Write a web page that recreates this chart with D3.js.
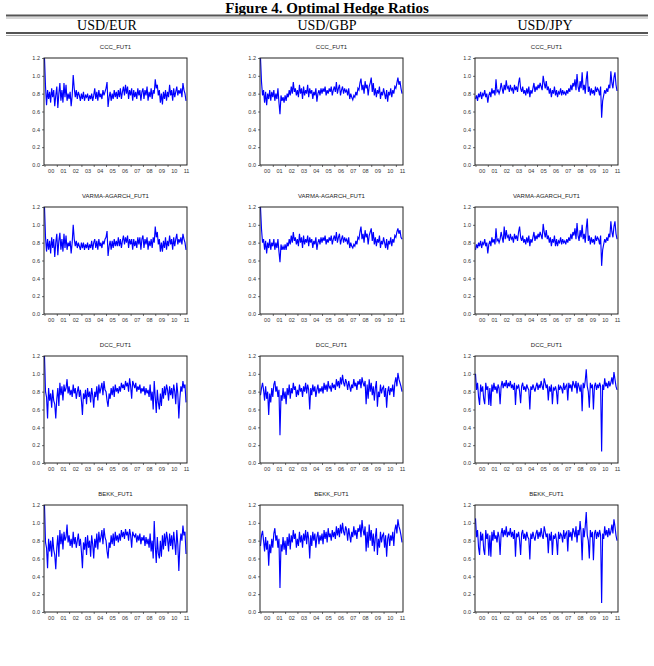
<!DOCTYPE html>
<html>
<head>
<meta charset="utf-8">
<title>Figure 4. Optimal Hedge Ratios</title>
<script src="https://d3js.org/d3.v7.min.js"></script>
<style>
  body { margin: 0; background: #fff; }
  svg text { font-family: "Liberation Sans", Arial, sans-serif; }
</style>
</head>
<body>
<svg id="chart" width="654" height="666"></svg>
<script>
// monthly readings, Jan 2000 .. Jul 2011
var startYear = 2000;
var perYear = 12;
var yearLabels = ["00", "01", "02", "03", "04", "05", "06", "07", "08", "09", "10", "11"];
var yTicks = [0, 0.2, 0.4, 0.6, 0.8, 1.0, 1.2];
var currencies = ["USD/EUR", "USD/GBP", "USD/JPY"];
var models = ["CCC_FUT1", "VARMA-AGARCH_FUT1", "DCC_FUT1", "BEKK_FUT1"];

var eurCCC = [
  1.20,.88,.67,.84,.74,.82,.70,.86,.76,.84,.66,.78,
  .88,.64,.80,.92,.72,.84,.70,.92,.76,.90,.72,.80,
  .74,.82,.66,.78,1.01,.86,.76,.84,.74,.82,.78,.72,
  .80,.74,.82,.72,.78,.76,.80,.72,.78,.74,.80,.72,
  .78,.86,.74,.82,.72,.84,.76,.80,.74,.84,.78,.82,
  .86,.93,.65,.76,.82,.72,.80,.74,.84,.76,.82,.74,
  .84,.76,.86,.74,.82,.88,.78,.90,.80,.88,.74,.84,
  .78,.86,.72,.84,.76,.82,.74,.86,.78,.84,.72,.82,
  .86,.74,.84,.78,.88,.72,.82,.76,.86,.74,.84,.80,
  .96,.86,.90,.78,.84,.70,.80,.68,.82,.74,.84,.72,
  .82,.76,.90,.78,.84,.72,.86,.76,.82,.88,.78,.84,
  .80,.86,.76,.92,.84,.80,.72];
var gbpCCC = [
  1.20,.93,.78,.84,.70,.82,.67,.80,.74,.84,.72,.82,
  .76,.84,.72,.80,.74,.86,.70,.57,.78,.72,.76,.70,
  .78,.72,.80,.76,.84,.78,.88,.80,.93,.82,.86,.78,
  .84,.76,.90,.80,.86,.74,.88,.78,.84,.80,.90,.76,
  .86,.80,.84,.74,.82,.78,.86,.71,.80,.84,.78,.86,
  .80,.86,.82,.88,.78,.84,.80,.86,.82,.88,.78,.84,
  .88,.82,.93,.80,.86,.90,.78,.84,.88,.80,.86,.82,
  .84,.78,.86,.74,.80,.76,.73,.78,.76,.82,.78,.86,
  .84,.92,.97,.84,.90,.80,.94,.86,.90,.78,.88,.92,
  .98,.82,.92,.78,.86,.76,.84,.80,.88,.74,.82,.78,
  .86,.80,.74,.84,.71,.82,.78,.86,.76,.84,.80,.88,
  .86,.92,.98,.90,.94,.86,.80];
var jpyCCC = [
  .74,.78,.72,.80,.76,.82,.74,.80,.78,.84,.76,.80,
  .70,.78,.82,.76,.86,.80,.84,.78,.96,.82,.84,.80,
  .84,.92,.86,.80,.90,.84,.95,.86,.88,.82,.90,.84,
  .86,.80,.90,.84,.88,.82,.92,.98,.86,.82,.88,.80,
  .84,.78,.86,.80,.88,.76,.84,.80,.86,.92,.82,.88,
  .84,.90,.86,.92,.88,.84,1.00,.92,.86,.94,.84,.88,
  .80,.86,.76,.84,.80,.88,.78,.84,.76,.82,.80,.86,
  .78,.84,.80,.82,.78,.84,.80,.86,.82,.90,.84,.92,
  .88,.96,.84,1.02,.88,.82,.94,.86,1.04,.84,.90,.80,
  .96,1.05,.82,.88,.78,.86,.80,.84,.78,.88,.82,.86,
  .84,.78,.88,.53,.72,.78,.84,.80,.86,.82,.90,.86,
  1.05,.92,.86,.98,1.04,.90,.83];

var eurVARMA = [
  1.20,.86,.70,.84,.72,.82,.68,.86,.74,.84,.64,.80,
  .90,.66,.82,.91,.72,.84,.70,.90,.74,.88,.72,.80,
  .76,.82,.68,.80,1.00,.84,.76,.82,.74,.80,.76,.72,
  .80,.74,.80,.72,.78,.74,.80,.72,.78,.74,.82,.72,
  .80,.84,.74,.82,.72,.84,.76,.80,.74,.82,.78,.84,
  .86,.93,.65,.76,.82,.72,.82,.74,.84,.76,.82,.76,
  .86,.76,.84,.74,.82,.88,.78,.86,.80,.88,.74,.84,
  .78,.84,.72,.84,.76,.82,.74,.86,.78,.86,.72,.84,
  .88,.74,.84,.78,.86,.72,.82,.76,.84,.74,.86,.80,
  .98,.86,.92,.78,.84,.70,.80,.70,.82,.74,.86,.72,
  .82,.76,.88,.78,.84,.72,.86,.76,.84,.90,.78,.84,
  .80,.86,.78,.90,.84,.80,.72];
var gbpVARMA = [
  1.20,.95,.80,.84,.72,.82,.68,.80,.74,.84,.72,.80,
  .76,.84,.72,.80,.74,.84,.70,.58,.78,.72,.76,.72,
  .78,.72,.80,.76,.84,.78,.88,.80,.92,.82,.86,.78,
  .84,.76,.90,.80,.86,.74,.88,.78,.84,.80,.88,.76,
  .86,.80,.84,.74,.82,.78,.86,.72,.80,.84,.78,.86,
  .80,.86,.82,.88,.78,.84,.80,.86,.82,.88,.78,.84,
  .88,.82,.92,.80,.86,.90,.78,.84,.88,.80,.86,.82,
  .84,.78,.86,.74,.80,.76,.74,.78,.76,.82,.78,.86,
  .84,.92,.98,.84,.90,.80,.94,.86,.90,.78,.88,.92,
  .96,.82,.92,.78,.86,.76,.84,.80,.88,.74,.82,.78,
  .86,.80,.74,.84,.72,.82,.78,.86,.76,.84,.80,.88,
  .86,.92,.96,.90,.94,.86,.84];
var jpyVARMA = [
  .72,.78,.74,.80,.76,.82,.74,.80,.78,.84,.76,.80,
  .68,.78,.82,.76,.86,.80,.84,.78,.96,.82,.84,.80,
  .84,.92,.86,.80,.98,.84,.94,.86,.88,.82,.90,.84,
  .86,.80,.90,.84,.88,.82,.92,.98,.86,.82,.88,.80,
  .84,.78,.86,.80,.88,.76,.84,.80,.86,.92,.82,.88,
  .84,.90,.86,.92,.88,.84,1.01,.92,.86,.94,.84,.88,
  .80,.86,.76,.84,.80,.88,.76,.84,.76,.82,.80,.86,
  .78,.84,.80,.82,.78,.84,.80,.86,.82,.90,.84,.92,
  .88,.96,.84,1.02,.88,.82,.94,.86,1.00,.84,.90,.80,
  .96,1.07,.82,.88,.78,.86,.80,.84,.78,.88,.82,.86,
  .84,.78,.88,.54,.72,.78,.84,.80,.86,.82,.90,.86,
  1.04,.92,.86,.98,1.04,.90,.84];

var eurDCC = [
  1.20,.80,.74,.50,.84,.70,.78,.62,.82,.70,.66,.50,
  .72,.84,.64,.90,.76,.86,.70,.88,.80,.84,.94,.78,
  .86,.76,.82,.74,.88,.78,.84,.72,.80,.86,.74,.82,
  .70,.54,.78,.72,.82,.66,.84,.74,.80,.68,.84,.76,
  .62,.80,.74,.86,.70,.88,.78,.84,.90,.76,.92,.82,
  .80,.70,.63,.78,.72,.84,.76,.86,.74,.88,.80,.84,
  .78,.86,.80,.90,.84,.88,.82,.92,.86,.90,.80,.95,
  .86,.72,.92,.88,.84,.90,.80,.86,.82,.88,.78,.84,
  .80,.86,.76,.84,.78,.82,.74,.88,.70,.80,.60,.92,
  .74,.56,.82,.68,.60,.78,.64,.84,.72,.86,.76,.88,
  .82,.70,.86,.76,.84,.72,.88,.80,.66,.90,.78,.50,
  .72,.86,.80,.92,.84,.88,.68];
var gbpDCC = [
  .76,.84,.90,.82,.70,.86,.72,.80,.54,.78,.68,.84,
  .74,.88,.92,.80,.86,.74,.82,.31,.76,.70,.84,.72,
  .80,.66,.84,.76,.88,.72,.84,.78,.90,.82,.86,.74,
  .82,.76,.88,.80,.84,.74,.86,.80,.90,.78,.88,.82,
  .60,.84,.76,.88,.80,.86,.74,.82,.88,.78,.84,.80,
  .86,.78,.90,.82,.88,.80,.92,.84,.86,.80,.90,.84,
  .88,.82,.94,.86,.92,.84,.96,.88,.99,.90,.86,.94,
  .90,.82,.92,.86,.80,.88,.84,.94,.86,.90,.82,.92,
  .88,.94,.84,.96,.90,.86,.92,.66,.88,.72,.94,.80,
  .90,.76,.86,.70,.84,.92,.63,.80,.74,.88,.78,.84,
  .86,.74,.84,.62,.80,.86,.76,.84,.80,.88,.74,.90,
  .96,.86,1.01,.94,.90,.86,.80];
var jpyDCC = [
  1.00,.82,.90,.74,.65,.88,.80,.86,.72,.66,.90,.82,
  .86,.65,.84,.64,.88,.80,.90,.82,.86,.78,.88,.84,
  .66,.86,.92,.84,.90,.86,.93,.84,.90,.86,.92,.84,
  .88,.82,.90,.65,.86,.84,.88,.80,.67,.86,.90,.82,
  .86,.80,.88,.84,.82,.60,.86,.82,.88,.84,.80,.86,
  .90,.82,.88,.84,.92,.86,.82,.95,.90,.84,.88,.70,
  .86,.80,.88,.66,.84,.82,.86,.80,.66,.88,.82,.86,
  .84,.78,.90,.82,.86,.88,.70,.90,.84,.88,.80,.92,
  .88,.84,.92,.78,.90,.86,.80,.88,.58,.90,.84,.92,
  1.05,.86,.80,.62,.90,.84,.88,.60,.86,.90,.82,.88,
  .84,.90,.86,.13,.88,.82,.95,.86,.90,.84,.92,.86,
  .90,.96,.88,1.02,.94,.86,.82];

var eurBEKK = [
  1.20,.78,.72,.49,.82,.68,.80,.62,.84,.70,.64,.48,
  .72,.86,.62,.92,.76,.88,.70,.90,.80,.84,.98,.78,
  .86,.74,.82,.72,.90,.76,.84,.72,.80,.88,.74,.82,
  .68,.49,.78,.70,.84,.64,.86,.72,.80,.62,.86,.76,
  .60,.82,.72,.88,.70,.90,.78,.84,.92,.76,.94,.84,
  .80,.68,.60,.78,.72,.86,.76,.88,.74,.90,.80,.86,
  .78,.88,.80,.92,.84,.90,.82,.93,.86,.90,.80,.93,
  .86,.72,.90,.86,.84,.88,.78,.86,.80,.88,.76,.84,
  .80,.86,.74,.84,.76,.82,.72,.88,.68,.80,.60,1.02,
  .74,.55,.84,.66,.60,.80,.62,.86,.70,.88,.74,.90,
  .82,.68,.88,.74,.86,.70,.90,.78,.64,.92,.76,.46,
  .74,.88,.80,.97,.86,.90,.65];
var gbpBEKK = [
  .74,.86,.91,.80,.68,.84,.70,.80,.52,.76,.66,.82,
  .72,.88,.94,.80,.86,.72,.82,.27,.76,.68,.84,.70,
  .80,.64,.84,.74,.88,.70,.86,.78,.92,.82,.88,.72,
  .82,.74,.90,.78,.86,.72,.88,.80,.92,.76,.90,.82,
  .60,.86,.74,.90,.80,.88,.72,.84,.90,.76,.86,.80,
  .88,.76,.92,.82,.90,.78,.94,.84,.88,.80,.92,.84,
  .90,.82,.96,.86,.94,.84,.98,.88,1.00,.90,.86,.96,
  .92,.80,.94,.86,.78,.90,.84,.96,.86,.92,.82,.94,
  .90,.98,.84,1.03,.92,.86,.96,.68,.90,.72,.98,.80,
  .92,.74,.88,.68,.84,.94,.64,.82,.72,.90,.78,.86,
  .88,.72,.86,.62,.82,.88,.74,.86,.80,.90,.74,.92,
  .98,.88,1.04,.96,.92,.86,.78];
var jpyBEKK = [
  1.05,.84,.92,.72,.64,.90,.80,.88,.70,.64,.92,.82,
  .88,.63,.86,.62,.90,.80,.92,.82,.86,.78,.90,.84,
  .64,.88,.94,.84,.92,.86,.96,.84,.90,.86,.94,.84,
  .90,.82,.92,.62,.88,.84,.90,.80,.64,.88,.92,.82,
  .88,.80,.90,.84,.82,.59,.88,.82,.90,.84,.80,.88,
  .92,.82,.90,.84,.94,.86,.82,.96,.90,.84,.88,.66,
  .88,.80,.90,.64,.86,.82,.88,.80,.64,.90,.82,.88,
  .86,.78,.92,.82,.88,.90,.68,.92,.84,.90,.80,.94,
  .90,.84,.96,.78,.92,.86,1.02,.88,.58,.94,.84,.96,
  1.12,.86,.80,.60,.92,.84,.90,.58,.88,.92,.82,.90,
  .84,.92,.86,.10,.88,.82,.96,.86,.92,.84,.94,.86,
  .90,.98,.88,1.04,.96,.86,.80];

var panels = [
  [eurCCC, gbpCCC, jpyCCC],
  [eurVARMA, gbpVARMA, jpyVARMA],
  [eurDCC, gbpDCC, jpyDCC],
  [eurBEKK, gbpBEKK, jpyBEKK]
];

var svg = d3.select("#chart");

// heading
svg.append("text")
  .attr("x", 327).attr("y", 13)
  .attr("text-anchor", "middle")
  .style("font-family", "'Liberation Serif', 'Times New Roman', serif")
  .style("font-weight", "bold")
  .style("font-size", "15px")
  .text("Figure 4. Optimal Hedge Ratios");

[15.5, 33].forEach(function (y) {
  svg.append("line").attr("x1", 6).attr("x2", 648).attr("y1", y).attr("y2", y)
    .attr("stroke", "#555").attr("stroke-width", 2);
  svg.append("line").attr("x1", 6).attr("x2", 648).attr("y1", y + 2.5).attr("y2", y + 2.5)
    .attr("stroke", "#999").attr("stroke-width", 0.8);
});

var headerX = [107, 327, 545];
currencies.forEach(function (c, i) {
  svg.append("text")
    .attr("x", headerX[i]).attr("y", 30)
    .attr("text-anchor", "middle")
    .style("font-family", "'Liberation Serif', 'Times New Roman', serif")
    .style("font-size", "14px")
    .text(c);
});

var colLeft = [44, 260, 475];
var rowTop = [58, 207, 356, 505];
var w = 143, h = 107;

var x = d3.scaleLinear().domain([1999.96, 2011.58]).range([0, w]);
var y = d3.scaleLinear().domain([0, 1.2]).range([h, 0]);

var yearStarts = yearLabels.map(function (d, i) { return startYear + i; });
var yearMids = yearLabels.map(function (d, i) { return startYear + i + 0.5; });

var line = d3.line()
  .x(function (d, i) { return x(startYear + i / perYear); })
  .y(function (d) { return y(d); });

models.forEach(function (m, r) {
  currencies.forEach(function (c, k) {
    var g = svg.append("g")
      .attr("transform", "translate(" + colLeft[k] + "," + rowTop[r] + ")");

    g.append("text")
      .attr("x", w / 2).attr("y", -9)
      .attr("text-anchor", "middle")
      .style("font-size", "6px")
      .style("fill", "#222")
      .text(m);

    var yAxis = g.append("g")
      .call(d3.axisLeft(y).tickValues(yTicks).tickFormat(d3.format(".1f")).tickSize(2).tickPadding(2));
    var xTicks = g.append("g")
      .attr("transform", "translate(0," + h + ")")
      .call(d3.axisBottom(x).tickValues(yearStarts).tickFormat("").tickSize(2));
    var xLabels = g.append("g")
      .attr("transform", "translate(0," + h + ")")
      .call(d3.axisBottom(x).tickValues(yearMids).tickFormat(function (d, i) { return yearLabels[i]; }).tickSize(0).tickPadding(4));

    [yAxis, xTicks, xLabels].forEach(function (a) {
      a.select(".domain").remove();
      a.selectAll("text").style("font-size", "5.5px").style("fill", "#333")
        .style("font-family", "'Liberation Sans', Arial, sans-serif");
      a.selectAll("line").attr("stroke", "#333").attr("stroke-width", 0.7);
    });

    g.append("path")
      .datum(panels[r][k])
      .attr("d", line)
      .attr("fill", "none")
      .attr("stroke", "#0000ff")
      .attr("stroke-width", 1.15);

    g.append("rect")
      .attr("width", w).attr("height", h)
      .attr("fill", "none")
      .attr("stroke", "#222")
      .attr("stroke-width", 1);
  });
});
</script>
</body>
</html>
